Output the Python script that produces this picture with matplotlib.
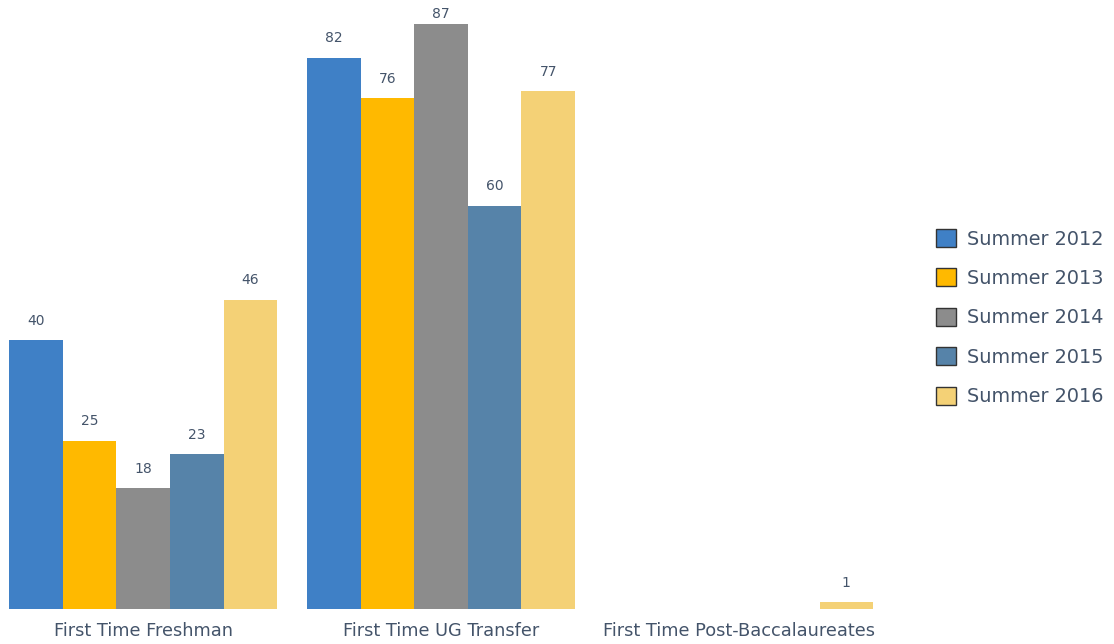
import matplotlib.pyplot as plt
import numpy as np

categories = ['First Time Freshman', 'First Time UG Transfer', 'First Time Post-Baccalaureates']
series = ['Summer 2012', 'Summer 2013', 'Summer 2014', 'Summer 2015', 'Summer 2016']
values = {
    'Summer 2012': [40, 82, 0],
    'Summer 2013': [25, 76, 0],
    'Summer 2014': [18, 87, 0],
    'Summer 2015': [23, 60, 0],
    'Summer 2016': [46, 77, 1],
}
colors = ['#3F80C6', '#FFB900', '#8C8C8C', '#5683A9', '#F4D176']
text_color = '#44546A'

plt.rcParams['font.family'] = ['DejaVu Sans']

fig = plt.figure(figsize=(11.14, 6.44), dpi=100)
W, H = 1114, 644
ax = fig.add_axes([0, 35 / H, 894 / W, 609 / H])

ymax = 90.6
x = np.arange(len(categories))
w = 0.18
for i, s in enumerate(series):
    pos = x - 0.36 + i * w
    bars = ax.bar(pos, values[s], width=w, color=colors[i], label=s)
    for b, v in zip(bars, values[s]):
        if v > 0:
            # labels near the top get pushed down to stay inside the chart
            avail = (ymax - v) * 609 / ymax
            off = max(min(9, (avail - 21) * 0.72), 1)
            ax.annotate(str(v), (b.get_x() + b.get_width() / 2, v),
                        xytext=(0, off), textcoords='offset points',
                        ha='center', va='bottom', fontsize=10, color=text_color)

ax.set_xlim(-0.48, 2.52)
ax.set_ylim(0, ymax)
ax.set_xticks(x)
ax.set_xticklabels(categories, fontsize=12.8, color=text_color)
ax.tick_params(axis='x', length=0, pad=9)
ax.set_yticks([])
for sp in ax.spines.values():
    sp.set_visible(False)

handles = [plt.Rectangle((0, 0), 1, 1, facecolor=c, edgecolor='#333333', linewidth=1) for c in colors]
leg = fig.legend(handles, series, loc='upper left', bbox_to_anchor=(936 / W, 1 - 229 / H),
                 frameon=False, fontsize=13.9, handlelength=1.05, handleheight=1.05,
                 handletextpad=0.55, labelspacing=1.03, borderpad=0, borderaxespad=0)
for t in leg.get_texts():
    t.set_color(text_color)

fig.savefig('out.png', dpi=100)
